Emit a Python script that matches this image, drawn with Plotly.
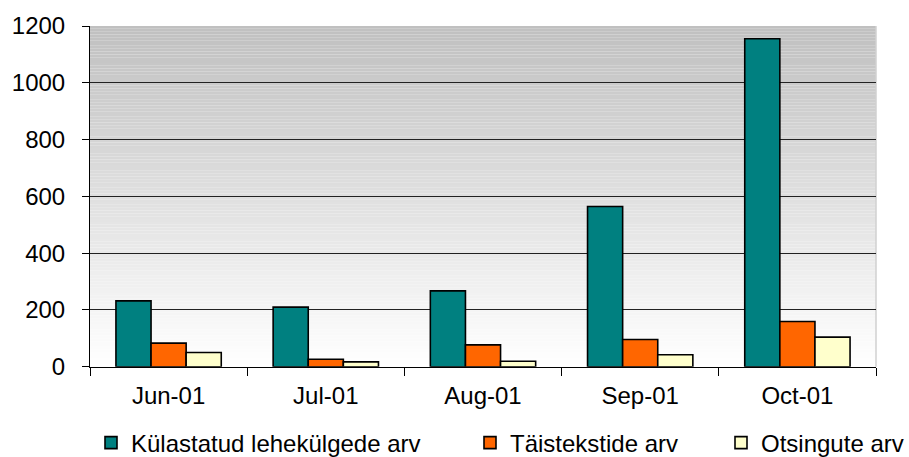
import plotly.graph_objects as go

categories = ["Jun-01", "Jul-01", "Aug-01", "Sep-01", "Oct-01"]
series_names = ["Külastatud lehekülgede arv", "Täistekstide arv", "Otsingute arv"]
visited_pages = [232, 210, 267, 564, 1155]
fulltexts = [83, 26, 77, 96, 159]
searches = [50, 17, 19, 42, 104]
y_ticks = [0, 200, 400, 600, 800, 1000, 1200]

colors = ["#008080", "#FF6600", "#FFFFCC"]
FONT = "Liberation Sans, Arial, sans-serif"

W, H = 909, 457

legend_ids = ["legend", "legend2", "legend3"]
legend_x = [91, 470, 721]

fig = go.Figure()
for name, vals, col, lid in zip(series_names, [visited_pages, fulltexts, searches], colors, legend_ids):
    fig.add_trace(go.Bar(
        x=categories, y=vals, name=name, legend=lid,
        marker=dict(color=col, line=dict(color="black", width=1.6)),
    ))

# gradient background of the plot area
shapes = []
n = 120
top_v, bot_v = 192, 255
for i in range(n):
    t = i / (n - 1)
    v = round(bot_v + (top_v - bot_v) * t)
    c = f"rgb({v},{v},{v})"
    shapes.append(dict(type="rect", xref="x domain", yref="y domain",
                       x0=0, x1=1, y0=i / n, y1=(i + 1) / n,
                       fillcolor=c, line=dict(width=0), layer="below"))
shapes.append(dict(type="line", xref="x domain", yref="y domain",
                   x0=1, x1=1, y0=0, y1=1,
                   line=dict(color="#d0d0d0", width=1.5), layer="below"))

legend_common = dict(orientation="h", xref="container", yref="container",
                     xanchor="left", y=1 - 443 / H, yanchor="middle",
                     font=dict(size=24, family=FONT), itemwidth=30,
                     bgcolor="rgba(0,0,0,0)")
legends = {}
for lid, lx in zip(legend_ids, legend_x):
    legends[lid] = dict(legend_common, x=lx / W)

fig.update_layout(
    width=W, height=H,
    margin=dict(l=88, r=33, t=25, b=90),
    paper_bgcolor="white", plot_bgcolor="white",
    barmode="group", bargap=0.33, bargroupgap=0,
    font=dict(family=FONT, size=24, color="black"),
    shapes=shapes,
    showlegend=True,
    **legends,
    xaxis=dict(showgrid=False, showline=True, linecolor="black", linewidth=1,
               ticks="outside", tickson="boundaries", ticklen=8, tickcolor="black",
               ticklabelstandoff=7, tickfont=dict(size=24, family=FONT)),
    yaxis=dict(range=[0, 1200], tickvals=y_ticks, showgrid=True, gridcolor="#222222",
               gridwidth=1, showline=True, linecolor="black", linewidth=1,
               ticks="outside", ticklen=7, tickcolor="black", zeroline=False,
               ticklabelstandoff=12, tickfont=dict(size=24, family=FONT)),
)

fig.write_html("out.html",
               config={"displayModeBar": False},
               post_script="document.body.style.margin='0';document.body.style.overflow='hidden';")
